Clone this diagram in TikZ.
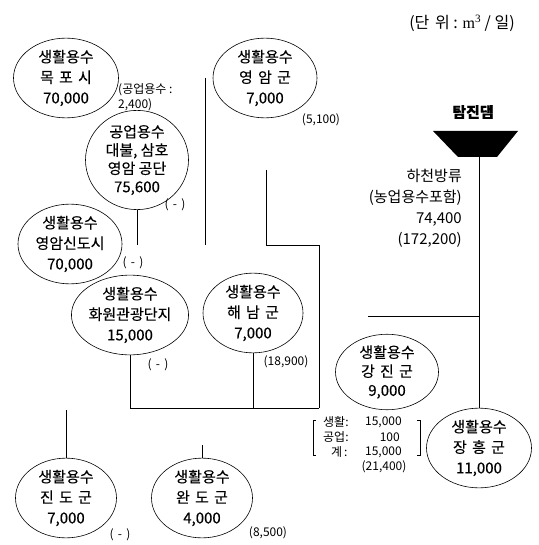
\documentclass[tikz,border=0pt]{standalone}
\usepackage{fontspec}
\setmainfont{Noto Sans CJK KR}[FakeBold=0.25]
\newfontfamily\lite{Noto Sans CJK KR}
\newfontfamily\lserif{Liberation Serif}
\usetikzlibrary{shapes.geometric}
\newcommand\gp{\hspace{0.35em}}
\begin{document}
\begin{tikzpicture}[x=1pt,y=-1pt,
  ell/.style={ellipse,draw,line width=0.6pt,inner sep=0pt,align=center,font=\fontsize{15}{20.5}\selectfont},
  sm/.style={inner sep=0pt,font=\lite\fontsize{12}{15}\selectfont},
  ln/.style={line width=0.6pt}]
\useasboundingbox (0,0) rectangle (538,545);
% title
\node[inner sep=0pt,font=\lite\fontsize{16}{18}\selectfont] (unit) at (462,23) {(단\gp 위 : {\lserif m\textsuperscript{3}} / 일)};
% ellipses
\node[ell,minimum width=105pt,minimum height=73pt] (mokpo) at (66,78) {생활용수\\목\gp 포\gp 시\\70,000};
\node[ell,minimum width=104pt,minimum height=72pt] (yeongam) at (265,78) {생활용수\\영\gp 암\gp 군\\7,000};
\node[ell,minimum width=103pt,minimum height=85pt,font=\fontsize{15}{18.3}\selectfont] (gongdan) at (137,160) {공업용수\\대불, 삼호\\영암 공단\\75,600};
\node[ell,minimum width=104pt,minimum height=72pt] (sindosi) at (70,244) {생활용수\\영암신도시\\70,000};
\node[ell,minimum width=103pt,minimum height=75pt] (hwawon) at (130,315) {생활용수\\화원관광단지\\15,000};
\node[ell,minimum width=100pt,minimum height=79pt] (haenam) at (253,313) {생활용수\\해\gp 남\gp 군\\7,000};
\node[ell,minimum width=103pt,minimum height=68pt,font=\fontsize{15}{19}\selectfont] (gangjin) at (387,372) {생활용수\\강\gp 진\gp 군\\9,000};
\node[ell,minimum width=105pt,minimum height=79pt] (jangheung) at (479,448) {생활용수\\장\gp 흥\gp 군\\11,000};
\node[ell,minimum width=101pt,minimum height=75pt] (jindo) at (66,498) {생활용수\\진\gp 도\gp 군\\7,000};
\node[ell,minimum width=101pt,minimum height=75pt] (wando) at (202,498) {생활용수\\완\gp 도\gp 군\\4,000};
% dam
\fill (433,131) -- (518,131) -- (497,157) -- (458,157) -- cycle;
\coordinate (dam) at (479,157);
\node[inner sep=0pt,font=\bfseries\fontsize{15}{16}\selectfont] (damlbl) at (473,112) {탐진댐};
\node[inner sep=0pt,anchor=east,align=right,font=\lite\fontsize{15}{21}\selectfont] (river) at (462,208.5) {하천방류\\(농업용수포함)\\74,400\\(172,200)};
% junction coordinates
\coordinate (ya) at (205,78);
\coordinate (yb) at (205,245);
\coordinate (ga) at (137,245);
\coordinate (ka) at (266,170);
\coordinate (kb) at (266,245);
\coordinate (kc) at (319,245);
\coordinate (kd) at (319,408);
\coordinate (hb) at (130,408);
\coordinate (jt) at (66,410);
\coordinate (wt) at (202,445);
\coordinate (ra) at (368,316);
\coordinate (rb) at (479,316);
% connectors
\draw[ln] (ya) -- (yb);
\draw[ln] (gongdan.south) -- (ga);
\draw[ln] (ka) -- (kb) -- (kc) -- (kd);
\draw[ln] (hwawon.south) -- (hb) -- (kd);
\draw[ln] (haenam.south) -- (haenam.south |- hb);
\draw[ln] (jindo.north) -- (jt);
\draw[ln] (wando.north) -- (wt);
\draw[ln] (dam) -- (jangheung.north);
\draw[ln] (ra) -- (rb);
% small labels
\node[sm,anchor=west,align=left] (gy) at (118,97.5) {(공업용수 :\\2,400)};
\node[sm] (n5100) at (321,120) {(5,100)};
\node[sm] (m1) at (175,205) {(\gp-\gp)};
\node[sm] (m2) at (133,263) {(\gp-\gp)};
\node[sm] (m3) at (158,365) {(\gp-\gp)};
\node[sm] (m4) at (120,535) {(\gp-\gp)};
\node[sm] (n18900) at (286,362) {(18,900)};
\node[sm] (n8500) at (268,533) {(8,500)};
% bracket table
\node[sm,anchor=west] (l1) at (323,422) {생활:};
\node[sm,anchor=west] (l2) at (323,437) {공업:};
\node[sm,anchor=west] (l3) at (331,452) {계\,:};
\node[sm,anchor=east] (v1) at (402,422) {15,000};
\node[sm,anchor=east] (v2) at (400,437) {100};
\node[sm,anchor=east] (v3) at (402,452) {15,000};
\node[sm] (n21400) at (384,467) {(21,400)};
\draw[ln] (316,420) -- (313,420) -- (313,455) -- (316,455);
\draw[ln] (417,420) -- (420,420) -- (420,455) -- (417,455);
\end{tikzpicture}
\end{document}
